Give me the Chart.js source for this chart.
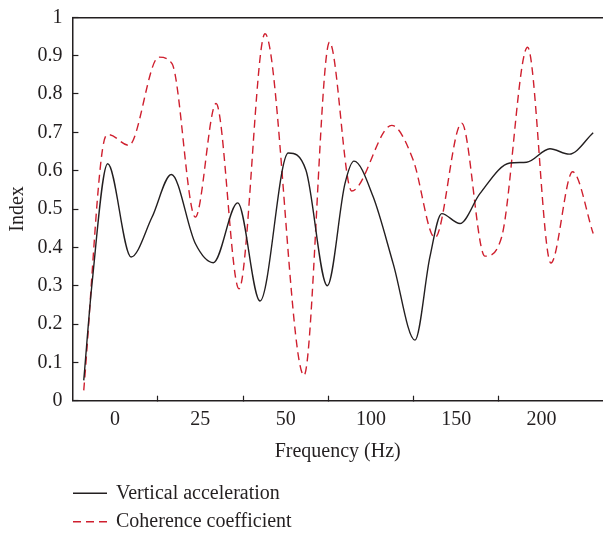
<!DOCTYPE html>
<html>
<head>
<meta charset="utf-8">
<script src="https://cdn.jsdelivr.net/npm/chart.js@4/dist/chart.umd.min.js"></script>
<style>
html, body { margin: 0; padding: 0; background: #ffffff; }
#wrap { width: 603px; height: 533px; position: relative; }
</style>
</head>
<body>
<div id="wrap"><canvas id="c" width="603" height="533"></canvas></div>
<script>
// ---- data (x positions are in axis-slot units: label k sits at x = k) ----
const freqLabels = ['0', '25', '50', '100', '150', '200'];
const yTickLabels = ['0', '0.1', '0.2', '0.3', '0.4', '0.5', '0.6', '0.7', '0.8', '0.9', '1'];
const seriesNames = ['Vertical acceleration', 'Coherence coefficient'];

const accelX = [-0.367, -0.270, -0.086, 0.188, 0.434, 0.660, 0.941, 1.152, 1.438, 1.699, 2.031, 2.238, 2.488, 2.695, 2.801, 3.027, 3.261, 3.516, 3.691, 3.829, 4.043, 4.277, 4.629, 4.825, 5.098, 5.324, 5.605];
const accelY = [0.053, 0.305, 0.618, 0.375, 0.479, 0.590, 0.410, 0.360, 0.516, 0.260, 0.646, 0.601, 0.300, 0.566, 0.625, 0.531, 0.357, 0.158, 0.375, 0.488, 0.462, 0.540, 0.620, 0.622, 0.657, 0.643, 0.699];

const coherX = [-0.367, -0.114, -0.074, 0.161, 0.512, 0.668, 0.941, 1.184, 1.453, 1.758, 2.215, 2.514, 2.774, 3.243, 3.496, 3.750, 4.063, 4.336, 4.532, 4.836, 5.109, 5.364, 5.605];
const coherY = [0.027, 0.688, 0.694, 0.666, 0.896, 0.879, 0.479, 0.775, 0.292, 0.957, 0.066, 0.935, 0.547, 0.718, 0.627, 0.425, 0.724, 0.377, 0.427, 0.922, 0.359, 0.597, 0.436];

// ---- styling ----
const INK = '#231f20';
const RED = '#cf1f2e';
const FONT = { family: '"Liberation Serif", "Times New Roman", serif', size: 20 };

const toPoints = (xs, ys) => xs.map((x, i) => ({ x: x, y: ys[i] }));
const xTickValues = freqLabels.flatMap((_, i) => i < freqLabels.length - 1 ? [i, i + 0.5] : [i]);

const bottomLegend = {
  id: 'bottomLegend',
  afterDraw(chart) {
    const ctx = chart.ctx;
    chart.data.datasets.forEach((ds, i) => {
      const y = 493.3 + i * 28.4;
      ctx.save();
      ctx.strokeStyle = ds.borderColor;
      ctx.lineWidth = ds.borderWidth;
      ctx.setLineDash(ds.borderDash || []);
      ctx.beginPath();
      ctx.moveTo(73, y);
      ctx.lineTo(107, y);
      ctx.stroke();
      ctx.setLineDash([]);
      ctx.fillStyle = INK;
      ctx.font = FONT.size + 'px ' + FONT.family;
      ctx.textBaseline = 'middle';
      ctx.textAlign = 'left';
      ctx.fillText(ds.label, 116, y);
      ctx.restore();
    });
  }
};

new Chart(document.getElementById('c'), {
  type: 'line',
  data: {
    datasets: [
      {
        label: seriesNames[0],
        data: toPoints(accelX, accelY),
        borderColor: INK,
        borderWidth: 1.4,
        pointRadius: 0,
        cubicInterpolationMode: 'monotone',
        fill: false
      },
      {
        label: seriesNames[1],
        data: toPoints(coherX, coherY),
        borderColor: RED,
        borderWidth: 1.4,
        borderDash: [8, 5],
        pointRadius: 0,
        cubicInterpolationMode: 'monotone',
        fill: false
      }
    ]
  },
  options: {
    responsive: false,
    animation: false,
    layout: { padding: { top: 17.3, bottom: 62.3, left: 0, right: 0 } },
    plugins: { legend: { display: false }, tooltip: { enabled: false } },
    scales: {
      x: {
        type: 'linear',
        position: 'bottom',
        min: -0.5,
        max: 5.72,
        afterBuildTicks: (s) => { s.ticks = xTickValues.map(v => ({ value: v })); },
        afterFit: (s) => { s.height = 70; },
        ticks: {
          autoSkip: false,
          maxRotation: 0,
          padding: 12,
          color: INK,
          font: FONT,
          callback: (v) => Number.isInteger(v) ? freqLabels[v] : ''
        },
        grid: {
          drawOnChartArea: false,
          tickLength: -5,
          tickWidth: 1.2,
          tickColor: (ctx) => (ctx.tick && !Number.isInteger(ctx.tick.value)) ? INK : 'rgba(0,0,0,0)'
        },
        border: { color: INK, width: 1.5 },
        title: { display: true, text: 'Frequency (Hz)', color: INK, font: FONT, padding: { top: 0, bottom: 7 } }
      },
      xTop: {
        type: 'linear',
        position: 'top',
        min: -0.5,
        max: 5.72,
        afterFit: (s) => { s.height = 0; },
        ticks: { display: false },
        grid: { drawOnChartArea: false, drawTicks: false },
        border: { color: INK, width: 1.5 }
      },
      y: {
        min: 0,
        max: 1,
        afterFit: (s) => { s.width = 72.4; s.paddingTop = 8; s.paddingBottom = 8; },
        ticks: {
          stepSize: 0.1,
          padding: 16,
          color: INK,
          font: FONT,
          callback: (v) => yTickLabels[Math.round(v * 10)]
        },
        grid: { drawOnChartArea: false, tickLength: -6, tickWidth: 1.2, tickColor: INK },
        border: { color: INK, width: 1.5 },
        title: { display: true, text: 'Index', color: INK, font: FONT, padding: { top: 6, bottom: 0 } }
      }
    }
  },
  plugins: [bottomLegend]
});
</script>
</body>
</html>
